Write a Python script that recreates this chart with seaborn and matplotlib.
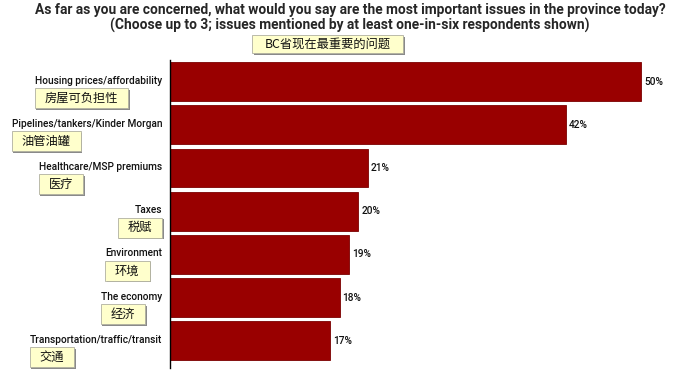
import matplotlib
matplotlib.use("Agg")
import matplotlib.pyplot as plt
import seaborn as sns
import pandas as pd
from matplotlib.patches import Rectangle
from matplotlib.transforms import IdentityTransform

categories = ["Housing prices/affordability", "Pipelines/tankers/Kinder Morgan",
              "Healthcare/MSP premiums", "Taxes", "Environment", "The economy",
              "Transportation/traffic/transit"]
chinese = ["房屋可负担性", "油管油罐", "医疗", "税赋", "环境", "经济", "交通"]
values = [50, 42, 21, 20, 19, 18, 17]
title1 = "As far as you are concerned, what would you say are the most important issues in the province today?"
title2 = "(Choose up to 3; issues mentioned by at least one-in-six respondents shown)"
subtitle_cn = "BC省现在最重要的问题"

sns.set_theme(style="white")
plt.rcParams['font.family'] = ['Roboto', 'Noto Sans CJK SC', 'DejaVu Sans']
CJK = ['Noto Sans CJK SC', 'DejaVu Sans']

W, H = 680, 375
fig = plt.figure(figsize=(6.8, 3.75), dpi=100)
ax = fig.add_axes([170 / W, 1 - 368 / H, 490 / W, 308 / H])

df = pd.DataFrame({"cat": categories, "val": values})
sns.barplot(data=df, x="val", y="cat", orient="h", color="#990000", width=0.9,
            saturation=1, edgecolor="#7a0000", linewidth=0.6, ax=ax)
ax.set_xlim(0, 52)
ax.set_ylim(6.63, -0.5)
for s in ["top", "right", "bottom"]:
    ax.spines[s].set_visible(False)
ax.spines["left"].set_color("black")
ax.spines["left"].set_linewidth(1.0)
ax.set_xticks([])
ax.set_yticks([])
ax.set_xlabel("")
ax.set_ylabel("")

ax.bar_label(ax.containers[0], labels=[f"{v}%" for v in values], padding=2,
             fontsize=7.3, fontweight="medium", color="#111111")

# titles
fig.text(350 / W, 1 - 10 / H, title1, ha="center", va="center", fontsize=9.9,
         fontweight="bold", family=['Liberation Sans Narrow', 'Roboto'])
fig.text(350 / W, 1 - 25 / H, title2, ha="center", va="center", fontsize=9.9,
         fontweight="bold", family=['Liberation Sans Narrow', 'Roboto'])

ident = IdentityTransform()


def cream_box(x0, y0, w, h):
    # y0 is bottom in display pixels
    fig.patches.append(Rectangle((x0 + 1.5, y0 - 1.5), w, h, transform=ident,
                                 facecolor="#8a8a8a", edgecolor="none", zorder=1))
    fig.patches.append(Rectangle((x0, y0), w, h, transform=ident,
                                 facecolor="#FFFFCC", edgecolor="#b0b0a0",
                                 linewidth=0.6, zorder=2))


# subtitle box
cx, cy = 327.5, H - 44
t = fig.text(cx, cy, subtitle_cn, transform=ident, ha="center", va="center",
             fontsize=8.8, family=CJK, color="#111111", zorder=3)
fig.canvas.draw()
renderer = fig.canvas.get_renderer()
cream_box(252, H - 53, 151, 18)

# y labels
eng_texts = []
for i, cat in enumerate(categories):
    px, py = ax.transData.transform((0, i))
    et = fig.text(px - 8, py + 1.0, cat, transform=ident, ha="right", va="center",
                  fontsize=7.3, fontweight="medium", color="#111111")
    eng_texts.append(et)
fig.canvas.draw()
for i, (et, cn) in enumerate(zip(eng_texts, chinese)):
    bb = et.get_window_extent(renderer)
    ct = fig.text(0, 0, cn, transform=ident, ha="center", va="center",
                  fontsize=8.8, family=CJK, color="#111111", zorder=3)
    fig.canvas.draw()
    cb = ct.get_window_extent(renderer)
    bw = cb.width + 20
    bh = 20
    left = min(bb.x0, bb.x1 - bw)
    px, py = ax.transData.transform((0, i))
    bcy = py - 16.5
    cream_box(left, bcy - bh / 2, bw, bh)
    ct.set_position((left + bw / 2, bcy))

fig.savefig("out.png", dpi=100)
